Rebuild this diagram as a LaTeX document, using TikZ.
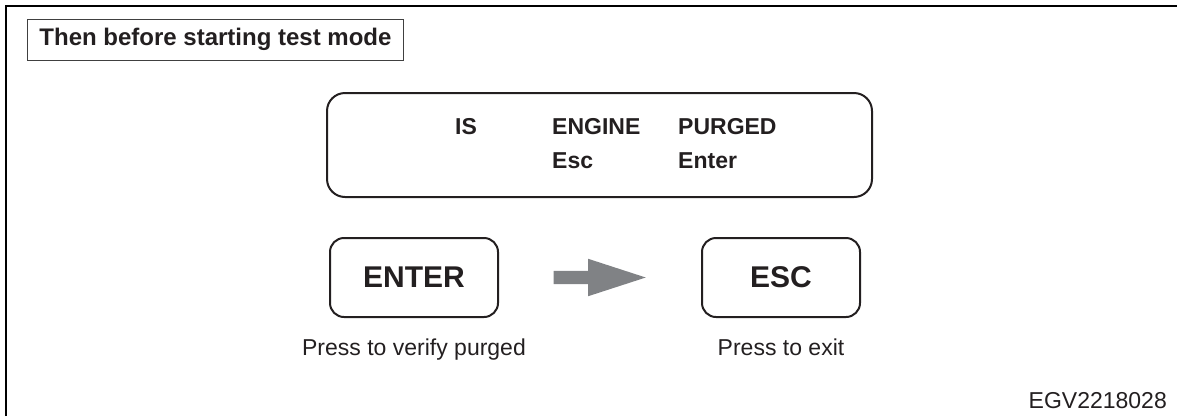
\documentclass[tikz,border=0pt]{standalone}
\usepackage{fontspec}
\setmainfont{Liberation Sans}
\usetikzlibrary{shapes.arrows,calc}
\definecolor{egvgray}{RGB}{128,130,133}
\definecolor{egvink}{RGB}{35,31,32}
\tikzset{
  egvframe/.style={line width=2pt, draw=black},
  egvtitle/.style={draw=black!75, line width=0.9pt, anchor=west, inner xsep=12pt,
    minimum height=41pt, font=\fontsize{24}{28}\selectfont\bfseries, text=egvink},
  egvlcd/.style={draw=egvink, line width=2pt, rounded corners=18pt,
    minimum width=545pt, minimum height=104pt, inner sep=0pt},
  egvword/.style={anchor=base west, inner sep=0pt,
    font=\fontsize{23}{27}\selectfont\bfseries, text=egvink},
  egvkey/.style={draw=egvink, line width=2pt, rounded corners=14pt,
    minimum width=168pt, minimum height=79pt, inner sep=0pt,
    font=\fontsize{30}{35}\selectfont\bfseries, text=egvink},
  egvnote/.style={anchor=base, inner sep=0pt, font=\fontsize{23}{27}\selectfont, text=egvink},
  egvarrow/.style={single arrow, fill=egvgray, inner xsep=0pt, inner ysep=6.5pt, anchor=tail,
    minimum height=92pt, single arrow head extend=12pt, single arrow tip angle=36}
}

\begin{document}
\begin{tikzpicture}[x=1pt,y=-1pt]
  \useasboundingbox (0,0) rectangle (1177,416);
  \draw[egvframe] (6,416) -- (6,6) -- (1177,6);
  \node[egvtitle] (title) at (27,39.5) {Then before starting test mode};
  \node[egvlcd] (lcd) at (599.5,145) {};
  \node[egvword] (wis) at (455,134) {IS};
  \node[egvword] (wengine) at (552,134) {ENGINE};
  \node[egvword] (wpurged) at (678,134) {PURGED};
  \node[egvword] (wesc) at (552,168) {Esc};
  \node[egvword] (wenter) at (678,168) {Enter};
  \node[egvkey] (enter) at (414,277.5) {ENTER};
  \node[egvkey, minimum width=158pt] (esc) at (781,277.5) {ESC};
  \node[egvarrow] (push) at ($(enter.east)!0.27!(esc.west)$) {};
  \node[egvnote] (noteenter) at (414,355) {Press to verify purged};
  \node[egvnote] (noteesc) at (781,355) {Press to exit};
  \node[egvnote, anchor=base east] (code) at (1167,408) {EGV2218028};
\end{tikzpicture}
\end{document}
